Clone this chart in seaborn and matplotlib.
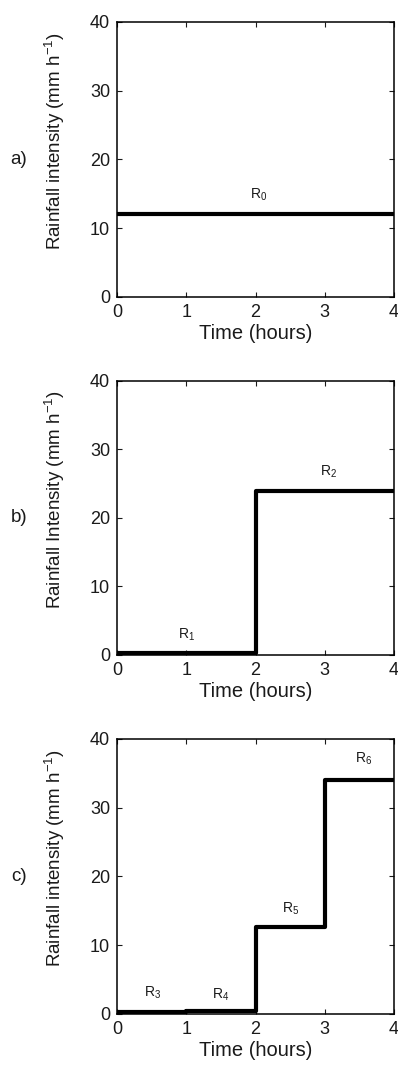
import seaborn as sns
import matplotlib.pyplot as plt

# step rainfall series: start times (hours) and intensities (mm/h),
# last value repeated so the final step reaches t = 4
time_a = [0, 4]
rain_a = [12, 12]
time_b = [0, 2, 4]
rain_b = [0.3, 23.9, 23.9]
time_c = [0, 1, 2, 3, 4]
rain_c = [0.3, 0.4, 12.6, 34.1, 34.1]

# period labels and where they sit (time, intensity at text baseline)
labels_a = ["R$_0$"]
lab_pos_a = [(2.05, 14.3)]
labels_b = ["R$_1$", "R$_2$"]
lab_pos_b = [(1.0, 2.4), (3.05, 26.2)]
labels_c = ["R$_3$", "R$_4$", "R$_5$", "R$_6$"]
lab_pos_c = [(0.51, 2.6), (1.5, 2.3), (2.51, 14.7), (3.56, 36.5)]

ylabels = ["Rainfall intensity (mm h$^{-1}$)",
           "Rainfall Intensity (mm h$^{-1}$)",
           "Rainfall intensity (mm h$^{-1}$)"]
panel_tags = ["a)", "b)", "c)"]

sns.set_style("ticks")
plt.rcParams["font.family"] = ["Liberation Sans", "DejaVu Sans"]
plt.rcParams["mathtext.fontset"] = "custom"
plt.rcParams["mathtext.rm"] = "Liberation Sans"
plt.rcParams["mathtext.it"] = "Liberation Sans:italic"
plt.rcParams["mathtext.default"] = "regular"

ink = "#1a1a1a"
fig = plt.figure(figsize=(3.98, 10.66), dpi=100)
boxes = [[0.294, 0.7214, 0.696, 0.258],
         [0.294, 0.3856, 0.696, 0.2573],
         [0.294, 0.0488, 0.696, 0.258]]

series = [(time_a, rain_a, labels_a, lab_pos_a),
          (time_b, rain_b, labels_b, lab_pos_b),
          (time_c, rain_c, labels_c, lab_pos_c)]

for i, (t, r, labs, pos) in enumerate(series):
    ax = fig.add_axes(boxes[i])
    sns.lineplot(x=t, y=r, drawstyle="steps-post", color="black",
                 linewidth=3.0, estimator=None, ax=ax)
    for txt, (x, y) in zip(labs, pos):
        ax.text(x, y, txt, ha="center", va="baseline", fontsize=10, color=ink)
    ax.set_xlim(0, 4)
    ax.set_ylim(0, 40)
    ax.set_xticks([0, 1, 2, 3, 4])
    ax.set_yticks([0, 10, 20, 30, 40])
    ax.tick_params(direction="in", top=True, right=True, length=3.5,
                   width=0.8, labelsize=13, colors=ink, pad=5)
    for s in ax.spines.values():
        s.set_linewidth(1.1)
        s.set_color("black")
    ax.set_xlabel("Time (hours)", fontsize=14.5, labelpad=2, color=ink)
    ax.set_ylabel(ylabels[i], fontsize=13.5, color=ink)
    ax.yaxis.set_label_coords(-0.18, 0.565)
    b = boxes[i]
    fig.text(0.048, b[1] + b[3] * 0.5, panel_tags[i], fontsize=13.5,
             ha="center", va="center", color=ink)

plt.savefig("out.png", dpi=100)
